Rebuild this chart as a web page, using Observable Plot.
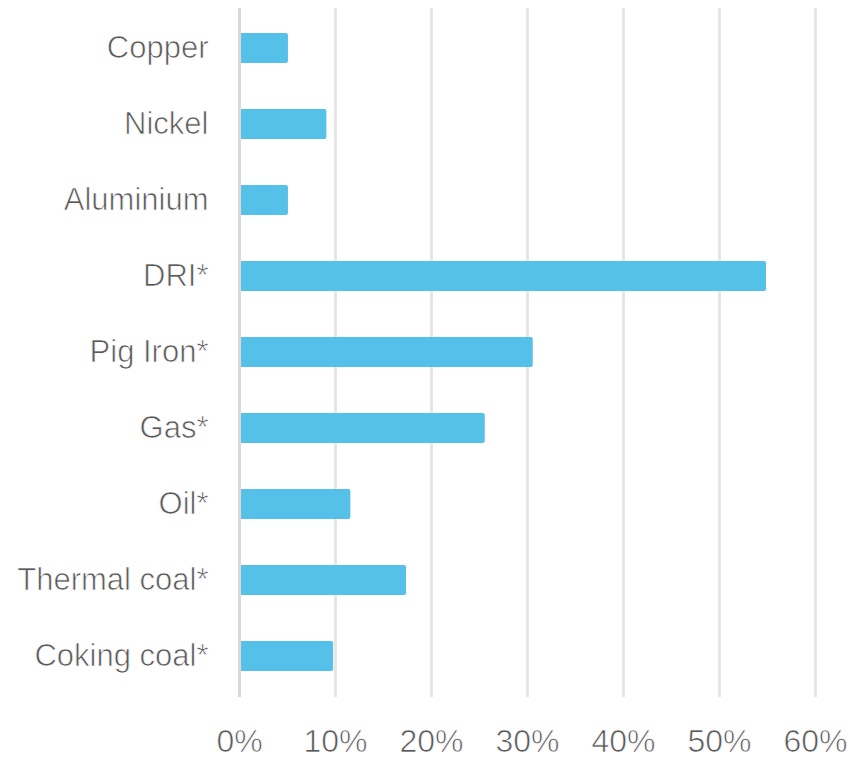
<!DOCTYPE html>
<html>
<head>
<meta charset="utf-8">
<script src="https://cdn.jsdelivr.net/npm/d3@7"></script>
<script src="https://cdn.jsdelivr.net/npm/@observablehq/plot@0.6"></script>
<style>
  html, body { margin: 0; padding: 0; background: #ffffff; }
  #chart svg { display: block; }
  #chart svg text { stroke: #ffffff; stroke-width: 0.7px; paint-order: normal; }
</style>
</head>
<body>
<div id="chart"></div>
<script>
const categories = ["Copper", "Nickel", "Aluminium", "DRI*", "Pig Iron*", "Gas*", "Oil*", "Thermal coal*", "Coking coal*"];
const values = [0.051, 0.091, 0.051, 0.549, 0.306, 0.256, 0.116, 0.174, 0.098];
const xTicks = [0, 0.1, 0.2, 0.3, 0.4, 0.5, 0.6];

const data = categories.map((c, i) => ({category: c, value: values[i]}));

const chart = Plot.plot({
  width: 851,
  height: 760,
  marginLeft: 239,
  marginRight: 36,
  marginTop: 8,
  marginBottom: 63,
  style: {fontFamily: "'Liberation Sans', Arial, sans-serif", fontSize: "31px", color: "#595959", background: "#ffffff"},
  x: {domain: [0, 0.6], ticks: xTicks},
  y: {domain: categories, paddingInner: 0.6, paddingOuter: 0.29},
  marks: [
    Plot.gridX(xTicks.slice(1), {stroke: "#e6e6e6", strokeOpacity: 1, strokeWidth: 3}),
    Plot.barX(data, {x: "value", y: "category", fill: "#55C1E9", rx: 2}),
    Plot.ruleX([0], {stroke: "#d9d9d9", strokeWidth: 3}),
    Plot.axisX(xTicks, {tickSize: 0, tickPadding: 32, tickFormat: d3.format(".0%"), fill: "#595959", fontSize: 32, label: null}),
    Plot.axisY({tickSize: 0, tickPadding: 31, fill: "#595959", fontSize: 31, label: null})
  ]
});
document.getElementById("chart").appendChild(chart);
</script>
</body>
</html>
